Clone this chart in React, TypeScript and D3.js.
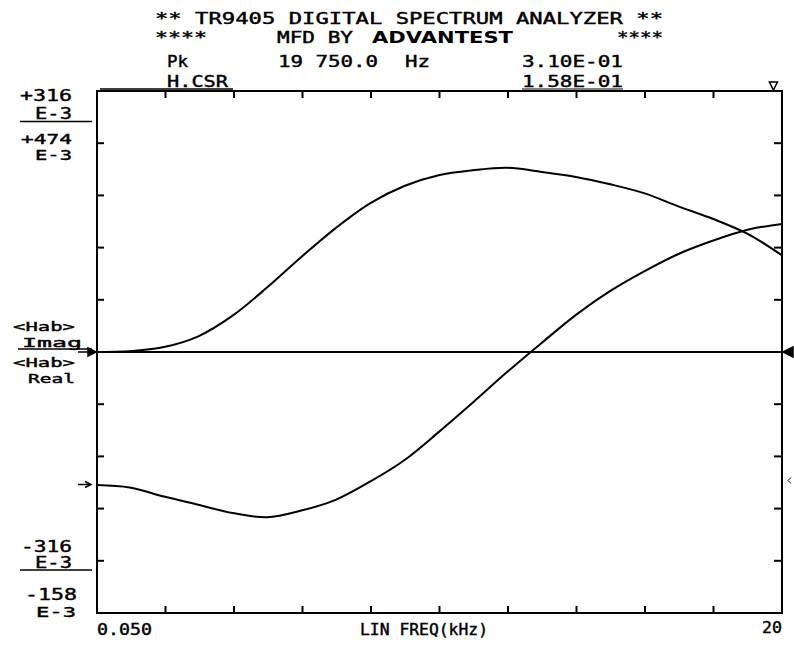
import * as d3 from 'd3'

// frequency points (kHz) and the two traces, read in E-3 units
const freqKHz = [0.05, 1, 2, 3, 4, 5, 6, 7, 8, 9, 10, 11, 12, 13, 14, 15, 16, 17, 18, 19, 20]
const habImag = [0, 1, 6, 19, 44, 78, 115, 150, 180, 201, 214, 220, 223, 218, 212, 203, 192, 176, 161, 143, 117]
const habReal = [-3, -6, -17, -27, -37, -42, -34, -21, 1, 27, 61, 97, 134, 169, 203, 232, 256, 277, 293, 306, 313]

const imagRange = [-316, 316]
const realRange = [-158, 474]
const freqRange = [0.05, 20]
const hCursor = 158 // H.CSR 1.58E-01 on the Real scale
const divisions = 10

const W = 794
const H = 648
const box = { left: 97, right: 782, top: 91, bottom: 613 }
const FONT = "'DejaVu Sans Mono', 'Liberation Mono', monospace"

type LabelProps = { x: number; y: number; w: number; size?: number; bold?: boolean; family?: string; children: string }

function Label({ x, y, w, size = 15, bold, family = FONT, children }: LabelProps) {
  return (
    <text
      x={x}
      y={y}
      textLength={w}
      lengthAdjust="spacingAndGlyphs"
      fontFamily={family}
      fontSize={size}
      fontWeight={bold ? 'bold' : 'normal'}
      fill="#000"
      stroke="#000"
      strokeWidth={bold ? 0 : 0.4}
    >
      {children}
    </text>
  )
}

export default function App() {
  const x = d3.scaleLinear().domain(freqRange).range([box.left, box.right])
  const yImag = d3.scaleLinear().domain(imagRange).range([box.bottom, box.top])
  const yReal = d3.scaleLinear().domain(realRange).range([box.bottom, box.top])

  const xTicks = d3.range(1, divisions).map((i) => freqRange[0] + (i * (freqRange[1] - freqRange[0])) / divisions)
  const yTicks = d3.range(1, divisions).map((i) => imagRange[0] + (i * (imagRange[1] - imagRange[0])) / divisions)

  const line = (vals: number[], y: d3.ScaleLinear<number, number>) =>
    d3
      .line<number>()
      .x((_, i) => x(freqKHz[i]))
      .y((v) => y(v))
      .curve(d3.curveCatmullRom.alpha(0.5))(vals) || ''

  const yc = yReal(hCursor)
  const y0Real = yReal(0)

  return (
    <svg
      width={W}
      height={H}
      style={{ position: 'absolute', left: 0, top: 0, background: '#fff' }}
    >
      <rect width={W} height={H} fill="#fff" />

      {/* header */}
      <Label x={155} y={24} w={508}>** TR9405 DIGITAL SPECTRUM ANALYZER **</Label>
      <Label x={155} y={43} w={52}>****</Label>
      <Label x={277} y={43} w={76}>MFD BY</Label>
      <Label x={372} y={43} w={141} size={16} bold family="'DejaVu Sans', Arial, sans-serif">ADVANTEST</Label>
      <Label x={617} y={43} w={46}>****</Label>
      <Label x={167} y={67} w={21}>Pk</Label>
      <Label x={278} y={67} w={100}>19 750.0</Label>
      <Label x={405} y={67} w={25}>Hz</Label>
      <Label x={522} y={67} w={101}>3.10E-01</Label>
      <Label x={167} y={87} w={61}>H.CSR</Label>
      <Label x={522} y={87} w={101}>1.58E-01</Label>
      <line x1={100} x2={233} y1={89} y2={89} stroke="#000" strokeWidth={1.5} />
      <line x1={522} x2={623} y1={89} y2={89} stroke="#000" strokeWidth={1} />

      {/* left scale labels */}
      <Label x={20} y={101} w={52}>+316</Label>
      <Label x={35} y={119} w={37}>E-3</Label>
      <line x1={20} x2={92} y1={121.5} y2={121.5} stroke="#000" strokeWidth={1.5} />
      <Label x={21} y={144} w={51} size={14}>+474</Label>
      <Label x={35} y={160} w={37} size={14}>E-3</Label>

      <Label x={13} y={331} w={62} size={13}>{'<Hab>'}</Label>
      <Label x={22} y={347} w={60} size={13}>Imag</Label>
      <line x1={18} x2={92} y1={349} y2={349} stroke="#000" strokeWidth={1.5} />
      <Label x={13} y={367} w={62} size={13}>{'<Hab>'}</Label>
      <Label x={28} y={383} w={47} size={13}>Real</Label>

      <Label x={21} y={552} w={51}>-316</Label>
      <Label x={35} y={568} w={37}>E-3</Label>
      <line x1={20} x2={92} y1={570} y2={570} stroke="#000" strokeWidth={1.5} />
      <Label x={25} y={600} w={52}>-158</Label>
      <Label x={36} y={617} w={40} size={14}>E-3</Label>

      {/* bottom labels */}
      <Label x={97} y={635} w={55}>0.050</Label>
      <Label x={360} y={635} w={128}>LIN FREQ(kHz)</Label>
      <Label x={762} y={633} w={20}>20</Label>

      {/* frame and ticks */}
      <rect
        x={box.left}
        y={box.top}
        width={box.right - box.left}
        height={box.bottom - box.top}
        fill="none"
        stroke="#000"
        strokeWidth={2}
      />
      {xTicks.map((t, i) => (
        <g key={'x' + i} stroke="#000" strokeWidth={2}>
          <line x1={x(t)} x2={x(t)} y1={box.top} y2={box.top + 7} />
          <line x1={x(t)} x2={x(t)} y1={box.bottom} y2={box.bottom - 7} />
        </g>
      ))}
      {yTicks.map((t, i) => (
        <g key={'y' + i} stroke="#000" strokeWidth={2}>
          <line x1={box.left} x2={box.left + 7} y1={yImag(t)} y2={yImag(t)} />
          <line x1={box.right} x2={box.right - 8} y1={yImag(t)} y2={yImag(t)} />
        </g>
      ))}

      {/* horizontal cursor */}
      <line x1={box.left} x2={box.right} y1={yc} y2={yc} stroke="#000" strokeWidth={2} />

      {/* reference markers */}
      <g stroke="#000" strokeWidth={1.5} fill="#000">
        <line x1={78} x2={95} y1={yImag(0)} y2={yImag(0)} />
        <path d={`M${88},${yImag(0) - 4}L${96},${yImag(0)}L${88},${yImag(0) + 4}Z`} />
        <line x1={78} x2={90} y1={y0Real + 2} y2={y0Real + 2} />
        <path d={`M${85},${y0Real - 1}L${91},${y0Real + 2}L${85},${y0Real + 5}`} fill="none" />
        <path d={`M${783},${yc}L${793},${yc - 5}L${793},${yc + 5}Z`} />
        <path d={`M${791},${y0Real - 5}L${788},${y0Real - 2}L${791},${y0Real + 1}`} fill="none" strokeWidth={1} />
      </g>
      <path
        d={`M${x(19.75) - 4},${box.top - 9}L${x(19.75) + 4},${box.top - 9}L${x(19.75)},${box.top - 1}Z`}
        fill="none"
        stroke="#000"
        strokeWidth={1.5}
      />

      {/* traces */}
      <path d={line(habImag, yImag)} fill="none" stroke="#000" strokeWidth={2} />
      <path d={line(habReal, yReal)} fill="none" stroke="#000" strokeWidth={2} />
    </svg>
  )
}
